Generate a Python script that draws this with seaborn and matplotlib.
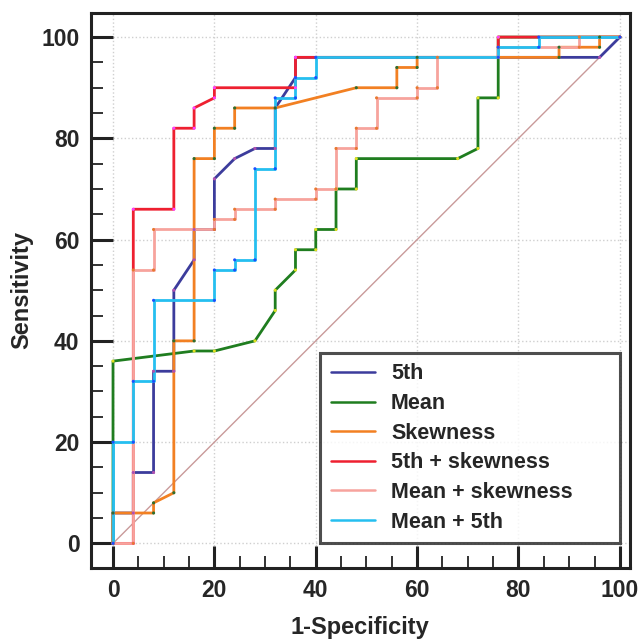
import matplotlib
matplotlib.use("Agg")
import matplotlib.pyplot as plt
from matplotlib.ticker import MultipleLocator
import seaborn as sns
import pandas as pd

labels = ["5th", "Mean", "Skewness", "5th + skewness", "Mean + skewness", "Mean + 5th"]

# ROC vertices (1-specificity %, sensitivity %)
fpr_5th = [0, 0, 4, 4, 8, 8, 12, 12, 16, 16, 20, 20, 24, 28, 32, 32, 36, 36, 96, 100]
tpr_5th = [0, 6, 6, 14, 14, 34, 34, 50, 56, 62, 62, 72, 76, 78, 78, 86, 92, 96, 96, 100]

fpr_mean = [0, 0, 16, 20, 28, 32, 32, 36, 36, 40, 40, 44, 44, 48, 48, 68, 72, 72, 76, 76, 100]
tpr_mean = [0, 36, 38, 38, 40, 46, 50, 54, 58, 58, 62, 62, 70, 70, 76, 76, 78, 88, 88, 100, 100]

fpr_skew = [0, 0, 8, 8, 12, 12, 16, 16, 20, 20, 24, 24, 32, 48, 56, 56, 60, 60, 88, 88, 96, 96, 100]
tpr_skew = [0, 6, 6, 8, 10, 40, 40, 76, 76, 82, 82, 86, 86, 90, 90, 94, 94, 96, 96, 98, 98, 100, 100]

fpr_5th_skew = [0, 4, 4, 12, 12, 16, 16, 20, 20, 36, 36, 76, 76, 100]
tpr_5th_skew = [0, 0, 66, 66, 82, 82, 86, 88, 90, 90, 96, 96, 100, 100]

fpr_mean_skew = [0, 4, 4, 8, 8, 20, 20, 24, 24, 32, 32, 40, 40, 44, 44, 48, 48, 52, 52, 60, 60, 64, 64, 76, 76, 92, 92, 100]
tpr_mean_skew = [0, 0, 54, 54, 62, 62, 64, 64, 66, 66, 68, 68, 70, 70, 78, 78, 82, 82, 88, 88, 90, 90, 96, 96, 98, 98, 100, 100]

fpr_mean_5th = [0, 0, 4, 4, 8, 8, 20, 20, 24, 24, 28, 28, 32, 32, 36, 36, 40, 40, 76, 76, 84, 84, 100]
tpr_mean_5th = [0, 20, 20, 32, 32, 48, 48, 54, 54, 56, 56, 74, 74, 88, 88, 92, 92, 96, 96, 98, 98, 100, 100]

line_colors = ["#3c3c9c", "#1f7d1f", "#f28022", "#ee2030", "#f7a39d", "#25bff0"]
dot_colors = ["#b050b0", "#e0e020", "#2e6e2e", "#ff40ff", "#e87830", "#1a50ff"]

fprs = [fpr_5th, fpr_mean, fpr_skew, fpr_5th_skew, fpr_mean_skew, fpr_mean_5th]
tprs = [tpr_5th, tpr_mean, tpr_skew, tpr_5th_skew, tpr_mean_skew, tpr_mean_5th]

rows = []
for name, xs, ys in zip(labels, fprs, tprs):
    for i, (x, y) in enumerate(zip(xs, ys)):
        rows.append({"model": name, "order": i, "fpr": x, "tpr": y})
df = pd.DataFrame(rows)

sns.set_theme(style="white")
plt.rcParams['font.family'] = ['Liberation Sans', 'DejaVu Sans']
plt.rcParams['font.weight'] = 'bold'

fig = plt.figure(figsize=(6.42, 6.40), dpi=100)
ax = fig.add_axes([0.1413, 0.1130, 0.84, 0.8662])

# chance line
ax.plot([0, 100], [0, 100], color="#c99a9a", lw=1.0, zorder=1)

sns.lineplot(data=df, x="fpr", y="tpr", hue="model", hue_order=labels,
             palette=line_colors, sort=False, estimator=None, units="model",
             lw=2.0, ax=ax, zorder=3)
sns.scatterplot(data=df, x="fpr", y="tpr", hue="model", hue_order=labels,
                palette=dot_colors, s=5, linewidth=0, legend=False, ax=ax, zorder=4)

ax.set_xlim(-4.4, 102)
ax.set_ylim(-4.8, 104.7)
ax.xaxis.set_major_locator(MultipleLocator(20))
ax.yaxis.set_major_locator(MultipleLocator(20))
ax.xaxis.set_minor_locator(MultipleLocator(5))
ax.yaxis.set_minor_locator(MultipleLocator(5))
ax.grid(True, which="major", color="#cfcfcf", linestyle=":", lw=1.0)
ax.set_axisbelow(True)

ax.tick_params(which="major", direction="in", length=16, width=2.2, color="#222222",
               labelsize=16.5, pad=8, bottom=True, left=True, top=False, right=False)
ax.tick_params(which="minor", direction="in", length=8.5, width=1.3, color="#222222",
               bottom=True, left=True, top=False, right=False)
for lab in ax.get_xticklabels() + ax.get_yticklabels():
    lab.set_fontweight("bold")

for sp in ax.spines.values():
    sp.set_linewidth(2.2)
    sp.set_color("#222222")

ax.set_xlabel("1-Specificity", fontsize=17, fontweight="bold", labelpad=10)
ax.set_ylabel("Sensitivity", fontsize=17, fontweight="bold", labelpad=6)

handles, _ = ax.get_legend_handles_labels()
for h in handles:
    h.set_linewidth(1.8)
lgd = ax.legend(handles, labels, loc="lower left", bbox_to_anchor=(0.425, 0.044, 0.556, 0.34),
                mode="expand", borderaxespad=0, frameon=True, fancybox=False, edgecolor="#222222",
                prop={"size": 15.5, "weight": "bold"}, handlelength=2.05,
                handletextpad=0.75, labelspacing=0.4, borderpad=0.5)
lgd.get_frame().set_linewidth(2.2)

fig.savefig("out.png", dpi=100)
